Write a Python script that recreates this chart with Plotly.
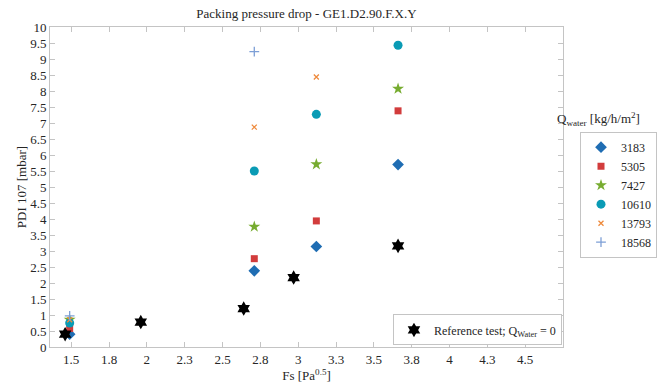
import plotly.graph_objects as go

# Data
series_names = ["3183", "5305", "7427", "10610", "13793", "18568"]
x_3183 = [1.49, 2.71, 3.12, 3.66]
y_3183 = [0.40, 2.38, 3.14, 5.70]
x_5305 = [1.49, 2.71, 3.12, 3.66]
y_5305 = [0.58, 2.76, 3.94, 7.38]
x_7427 = [1.49, 2.71, 3.12, 3.66]
y_7427 = [0.85, 3.76, 5.71, 8.07]
x_10610 = [1.49, 2.71, 3.12, 3.66]
y_10610 = [0.75, 5.50, 7.27, 9.43]
x_13793 = [1.49, 2.71, 3.12]
y_13793 = [0.85, 6.87, 8.44]
x_18568 = [1.49, 2.71]
y_18568 = [0.97, 9.23]
x_ref = [1.46, 1.96, 2.64, 2.97, 3.66]
y_ref = [0.40, 0.78, 1.20, 2.17, 3.16]

x_tickvals = [1.5, 1.75, 2.0, 2.25, 2.5, 2.75, 3.0, 3.25, 3.5, 3.75, 4.0, 4.25, 4.5]
x_ticktext = ["1.5", "1.8", "2", "2.3", "2.5", "2.8", "3", "3.3", "3.5", "3.8", "4", "4.3", "4.5"]
y_tickvals = [i * 0.5 for i in range(21)]
y_ticktext = ["0", "0.5", "1", "1.5", "2", "2.5", "3", "3.5", "4", "4.5", "5", "5.5",
              "6", "6.5", "7", "7.5", "8", "8.5", "9", "9.5", "10"]

FONT = "Liberation Serif, Times New Roman, serif"
TXT = "#262626"

styles = [
    (x_3183, y_3183, "diamond", 9, "#1f6db3"),
    (x_5305, y_5305, "square", 7, "#d23c3c"),
    (x_7427, y_7427, "star", 9, "#77ac30"),
    (x_10610, y_10610, "circle", 9, "#0a9bb5"),
    (x_13793, y_13793, "x-thin", 5, "#ee8a3c"),
    (x_18568, y_18568, "cross-thin", 7, "#7d9fd6"),
]

fig = go.Figure()
for name, (xs, ys, sym, sz, col) in zip(series_names, styles):
    line = dict(width=0)
    if sym in ("x-thin", "cross-thin"):
        line = dict(width=1.3, color=col)
    fig.add_trace(go.Scatter(
        x=xs, y=ys, mode="markers", name=name,
        marker=dict(symbol=sym, size=sz, color=col, line=line),
        legend="legend",
    ))

fig.add_trace(go.Scatter(
    x=x_ref, y=y_ref, mode="markers",
    name="Reference test; Q<sub>Water</sub> = 0",
    marker=dict(symbol="hexagram", size=11, color="black", line=dict(width=0)),
    legend="legend2",
))

axis_common = dict(
    showgrid=False, zeroline=False, showline=True, linecolor="#c4c4c4", linewidth=1,
    mirror="ticks", ticks="inside", ticklen=5, tickcolor="#c4c4c4",
    tickfont=dict(family=FONT, size=13, color=TXT),
)

fig.update_layout(
    width=671, height=390,
    margin=dict(l=50, r=108, t=27, b=39),
    paper_bgcolor="white", plot_bgcolor="white",
    font=dict(family=FONT, size=12, color=TXT),
    title=dict(text="Packing pressure drop - GE1.D2.90.F.X.Y", x=(50 + 563) / 2 / 671,
               xanchor="center", y=0.965, yanchor="middle",
               font=dict(family=FONT, size=13, color=TXT)),
    xaxis=dict(range=[1.36, 4.75], tickvals=x_tickvals, ticktext=x_ticktext,
               title=dict(text="Fs [Pa<sup>0.5</sup>]", font=dict(family=FONT, size=13, color=TXT),
                          standoff=2),
               **axis_common),
    yaxis=dict(range=[0, 10], tickvals=y_tickvals, ticktext=y_ticktext,
               title=dict(text="PDI 107 [mbar]", font=dict(family=FONT, size=13, color=TXT),
                          standoff=0),
               **axis_common),
    legend=dict(x=(580 - 50) / 513, y=(351 - 133) / 324, xanchor="left", yanchor="top",
                bgcolor="white", bordercolor="#c4c4c4", borderwidth=1,
                font=dict(family=FONT, size=12, color=TXT), tracegroupgap=0,
                itemwidth=30),
    legend2=dict(x=0.998, y=0.005, xanchor="right", yanchor="bottom",
                 bgcolor="white", bordercolor="#c4c4c4", borderwidth=1,
                 font=dict(family=FONT, size=12, color=TXT)),
    showlegend=True,
)

fig.add_annotation(
    text="Q<sub>water</sub> [kg/h/m<sup>2</sup>]", xref="paper", yref="paper",
    x=(555 - 50) / 513, y=(351 - 120) / 324, xanchor="left", yanchor="middle",
    showarrow=False, font=dict(family=FONT, size=13, color=TXT),
)

fig.write_html("out.html")
